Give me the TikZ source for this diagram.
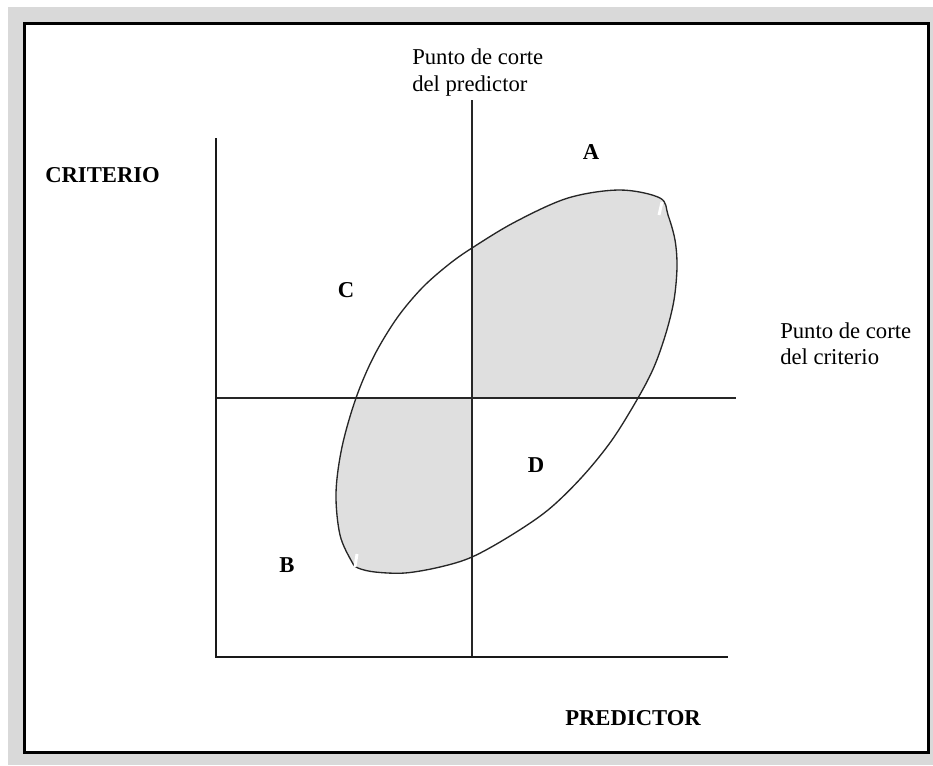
\documentclass[tikz,border=0pt]{standalone}
\usepackage{fontspec}
\setmainfont{Liberation Serif}
\tikzset{
  lbl/.style={font=\fontsize{17}{20}\selectfont, inner sep=0pt, anchor=north west, align=left},
  blbl/.style={font=\fontsize{17}{20}\selectfont\bfseries, inner sep=0pt},
  axisline/.style={line width=1.7pt, black!90},
  cutline/.style={line width=0.8pt, black!85},
  blobline/.style={line width=1pt, black!85},
}
\newcommand\blobpath{plot[smooth cycle, tension=0.55] coordinates {
 (352,562) (340,535) (336,493) (342,447) (356,398) (374,356) (397,318) (422,288) (448,265) (472,248)
 (515,222) (568,198) (620,190) (660,198) (668,215) (675,240) (677,267) (674,300) (666,333) (654,367) (638,398)
 (612,440) (582,477) (548,510) (510,536) (472,557) (440,567) (405,573) (375,572) (358,568)}}
\begin{document}
\begin{tikzpicture}[x=0.75pt,y=-0.75pt]
\useasboundingbox (0,0) rectangle (933,765);
\fill[white] (0,0) rectangle (933,765);
\fill[gray!30] (8,7) rectangle (933,765);
\draw[line width=2.4pt, fill=white] (24.5,23.5) rectangle (928.5,752.5);
% shaded regions
\begin{scope}
  \clip (472,0) rectangle (933,398);
  \fill[gray!25] \blobpath;
\end{scope}
\begin{scope}
  \clip (0,398) rectangle (472,765);
  \fill[gray!25] \blobpath;
\end{scope}
\draw[blobline] \blobpath;
% gaps in the outline
\draw[white, line width=2.2pt] (662,202) -- (659,215);
\draw[white, line width=2.2pt] (357,554) -- (355,567);
% cut lines
\coordinate (vtop) at (472,100);
\coordinate (vbot) at (472,657);
\coordinate (hl) at (216,398);
\coordinate (hr) at (736,398);
\draw[cutline] (vtop) -- (vbot);
\draw[cutline] (hl) -- (hr);
% axes
\coordinate (ytop) at (216,138);
\coordinate (orig) at (216,657);
\coordinate (xend) at (728,657);
\draw[axisline] (ytop) -- (orig) -- (xend);
% labels
\node[lbl] (pp) at (412,49) {Punto de corte\\del predictor};
\node[lbl] (pc) at (780,322) {Punto de corte\\del criterio};
\node[blbl, anchor=west] (crit) at (45,175) {CRITERIO};
\node[blbl, anchor=west] (pred) at (565,718) {PREDICTOR};
\node[blbl] (A) at (591,152) {A};
\node[blbl] (C) at (346,290) {C};
\node[blbl] (D) at (536,465) {D};
\node[blbl] (B) at (287,565) {B};
\end{tikzpicture}
\end{document}
